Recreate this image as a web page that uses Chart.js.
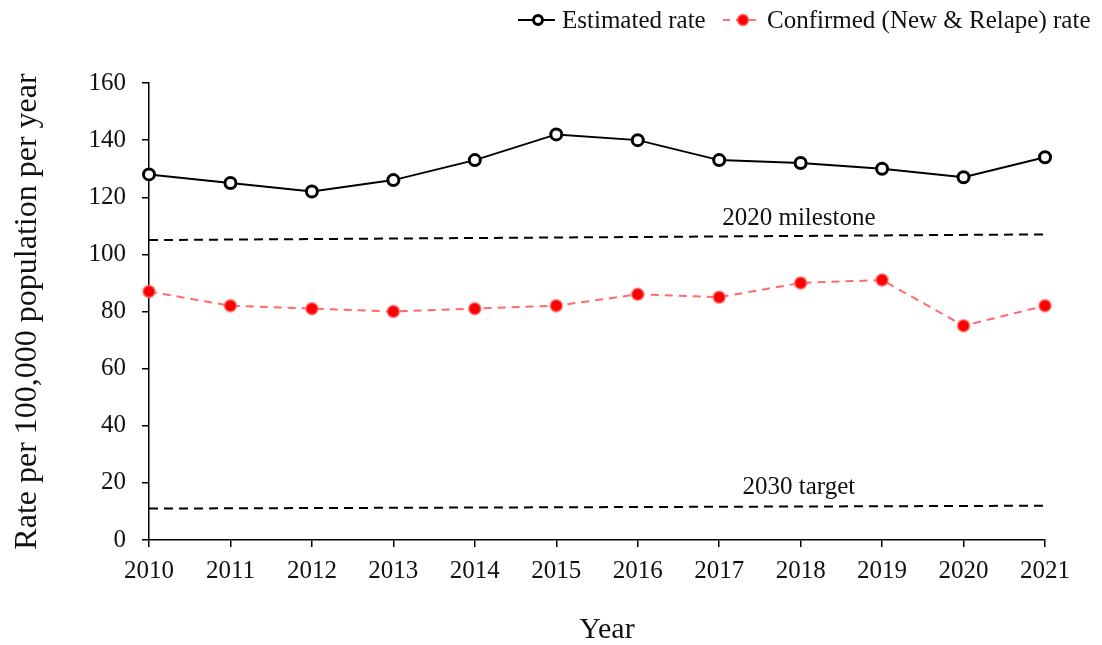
<!DOCTYPE html>
<html><head><meta charset="utf-8">
<script src="https://cdn.jsdelivr.net/npm/chart.js@4"></script>
<style>html,body{margin:0;padding:0;background:#fff}#wrap{width:1102px;height:645px}</style>
</head><body><div id="wrap"><canvas id="c" width="1102" height="645"></canvas></div>
<script>
const years = ['2010','2011','2012','2013','2014','2015','2016','2017','2018','2019','2020','2021'];
const estimatedRate = [128,125,122,126,133,142,140,133,132,130,127,134];
const confirmedRate = [87,82,81,80,81,82,86,85,90,91,75,82];
const milestone2020 = [105,null,null,null,null,null,null,null,null,null,null,107];
const target2030 = [11,null,null,null,null,null,null,null,null,null,null,12];
const yTicks = [0,20,40,60,80,100,120,140,160];
const FONT = "'Liberation Serif', serif";

const legendPlugin = {
  id: 'customLegend',
  afterDraw(chart) {
    const ctx = chart.ctx;
    ctx.save();
    ctx.font = "25px " + FONT;
    ctx.textBaseline = 'middle';
    const y = 20;
    // item 1
    ctx.strokeStyle = '#000'; ctx.lineWidth = 2; ctx.setLineDash([]);
    ctx.beginPath(); ctx.moveTo(518, y); ctx.lineTo(555, y); ctx.stroke();
    ctx.beginPath(); ctx.arc(538, y, 4.5, 0, Math.PI*2); ctx.fillStyle = '#fff'; ctx.fill(); ctx.lineWidth = 3; ctx.stroke();
    ctx.fillStyle = '#111'; ctx.fillText('Estimated rate', 562, y+1);
    // item 2
    ctx.strokeStyle = 'rgba(255,80,80,0.8)'; ctx.lineWidth = 2; ctx.setLineDash([7,6]);
    ctx.beginPath(); ctx.moveTo(723, y); ctx.lineTo(761, y); ctx.stroke();
    ctx.setLineDash([]);
    ctx.beginPath(); ctx.arc(743, y, 5.5, 0, Math.PI*2); ctx.fillStyle = '#ff0000'; ctx.fill();
    ctx.strokeStyle = 'rgba(255,100,100,0.6)'; ctx.lineWidth = 2; ctx.stroke();
    ctx.fillStyle = '#111'; ctx.fillText('Confirmed (New & Relape) rate', 767, y+1);
    ctx.restore();
  }
};

const labelPlugin = {
  id: 'refLabels',
  afterDatasetsDraw(chart) {
    const ctx = chart.ctx;
    const xs = chart.scales.x, ys = chart.scales.y;
    ctx.save();
    ctx.font = "25px " + FONT;
    ctx.fillStyle = '#111';
    ctx.textAlign = 'center';
    ctx.textBaseline = 'alphabetic';
    const cx = (xs.getPixelForValue(7) + xs.getPixelForValue(8))/2 + 39;
    ctx.fillText('2020 milestone', cx, ys.getPixelForValue(106) - 12);
    ctx.fillText('2030 target', cx, ys.getPixelForValue(11.5) - 13);
    // x axis title
    ctx.font = "30px " + FONT;
    ctx.fillText('Year', (xs.left + xs.right)/2 + 10, 638);
    ctx.restore();
  }
};

new Chart(document.getElementById('c'), {
  type: 'line',
  data: {
    labels: years,
    datasets: [
      { label: 'Estimated rate', data: estimatedRate, borderColor: '#000', borderWidth: 2,
        pointRadius: 5.5, pointBackgroundColor: '#fff', pointBorderColor: '#000', pointBorderWidth: 3, tension: 0 },
      { label: 'Confirmed (New & Relape) rate', data: confirmedRate, borderColor: 'rgba(255,80,80,0.85)', borderWidth: 2,
        borderDash: [8,6], pointRadius: 6, pointBackgroundColor: '#ff0000', pointBorderColor: 'rgba(255,110,110,0.6)', pointBorderWidth: 2, tension: 0 },
      { label: '2020 milestone', data: milestone2020, spanGaps: true, borderColor: '#000', borderWidth: 2,
        borderDash: [9,6], pointRadius: 0 },
      { label: '2030 target', data: target2030, spanGaps: true, borderColor: '#000', borderWidth: 2,
        borderDash: [9,6], pointRadius: 0 }
    ]
  },
  options: {
    responsive: false, animation: false,
    layout: { padding: { top: 83, right: 57, left: 0, bottom: 0 } },
    plugins: { legend: { display: false }, tooltip: { enabled: false } },
    scales: {
      x: {
        type: 'category', offset: false,
        grid: { display: true, drawOnChartArea: false, drawTicks: true, tickLength: 7, color: '#000', lineWidth: 1.5 },
        border: { display: true, color: '#000', width: 1.5 },
        ticks: { color: '#111', font: { family: FONT, size: 25 }, padding: 9, maxRotation: 0, autoSkip: false },
        afterFit(s) { s.height = 105; }
      },
      y: {
        min: 0, max: 160,
        afterBuildTicks(s) { s.ticks = yTicks.map(v => ({ value: v })); },
        grid: { display: true, drawOnChartArea: false, drawTicks: true, tickLength: 7, color: '#000', lineWidth: 1.5 },
        border: { display: true, color: '#000', width: 1.5 },
        ticks: { color: '#111', font: { family: FONT, size: 25 }, padding: 16 },
        title: { display: true, text: 'Rate per 100,000 population per year', color: '#111', font: { family: FONT, size: 32 }, padding: { top: 8, bottom: 0 } },
        afterFit(s) { s.width = 149; }
      }
    }
  },
  plugins: [legendPlugin, labelPlugin]
});
</script></body></html>
